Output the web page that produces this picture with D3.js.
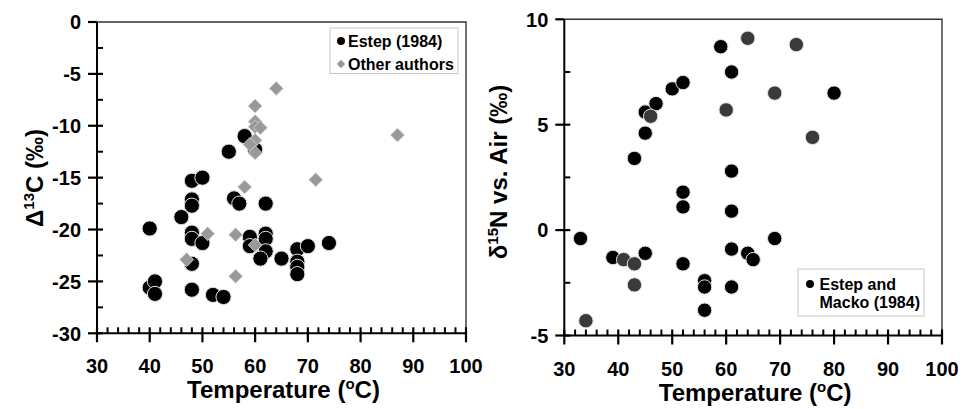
<!DOCTYPE html>
<html>
<head>
<meta charset="utf-8">
<script src="https://cdn.jsdelivr.net/npm/d3@7"></script>
<style>
  body { margin: 0; background: #fff; }
  svg { display: block; font-family: "Liberation Sans", Arial, sans-serif; font-weight: bold; }
</style>
</head>
<body>
<div id="app"></div>
<script>
// left panel: Delta 13C vs temperature
const estepC = [
  [40, -19.9], [40, -25.6], [41, -25.0], [41, -26.2], [46, -18.8], [48, -15.3],
  [50, -15.0], [48, -17.1], [48, -17.7], [48, -20.3], [48, -20.9], [50, -21.3],
  [48, -23.3], [48, -25.8], [52, -26.3], [54, -26.5], [55, -12.5], [58, -11.0],
  [60, -12.3], [56, -17.0], [57, -17.5], [62, -17.5], [59, -20.7], [59, -21.6],
  [62, -20.4], [62, -20.9], [62, -22.1], [61, -22.8], [65, -22.8], [68, -21.9],
  [68, -23.1], [68, -23.6], [68, -24.3], [70, -21.6], [74, -21.3]
];
const otherC = [
  [64, -6.4], [60, -8.1], [60, -9.6], [60, -10.1], [61, -10.2], [60, -11.4],
  [59, -11.8], [60, -12.6], [87, -10.9], [71.5, -15.2], [58, -15.9], [51, -20.4],
  [56.3, -20.5], [60, -21.5], [47, -22.9], [56.3, -24.5]
];

// right panel: delta 15N vs temperature
const estepN = [
  [33, -0.4], [39, -1.3], [45, -1.1], [43, 3.4], [45, 4.6], [45, 5.6], [47, 6.0],
  [50, 6.7], [52, 7.0], [52, 1.8], [52, 1.1], [52, -1.6], [56, -2.4], [56, -2.7],
  [56, -3.8], [59, 8.7], [61, 7.5], [61, 2.8], [61, 0.9], [61, -0.9], [61, -2.7],
  [64, -1.1], [65, -1.4], [69, -0.4], [80, 6.5]
];
const greyN = [
  [34, -4.3], [41, -1.4], [43, -1.6], [43, -2.6], [46, 5.4], [60, 5.7],
  [64, 9.1], [73, 8.8], [69, 6.5], [76, 4.4]
];

const xTicks = [30, 40, 50, 60, 70, 80, 90, 100];
const xMinor = [32, 34, 36, 38, 42, 44, 46, 48, 52, 54, 56, 58, 62, 64, 66, 68,
  72, 74, 76, 78, 82, 84, 86, 88, 92, 94, 96, 98];
const yTicksC = [0, -5, -10, -15, -20, -25, -30];
const yMinorC = [-2.5, -7.5, -12.5, -17.5, -22.5, -27.5];
const yTicksN = [10, 5, 0, -5];
const yMinorN = [7.5, 2.5, -2.5];

const svg = d3.select("#app").append("svg")
  .attr("width", 962).attr("height", 409);

function panel(cfg) {
  const x = d3.scaleLinear().domain([30, 100]).range(cfg.xr);
  const y = d3.scaleLinear().domain(cfg.yd).range(cfg.yr);
  const g = svg.append("g");
  const x0 = cfg.xr[0], x1 = cfg.xr[1];
  const y0 = cfg.yr[0], y1 = cfg.yr[1];

  // frame top/right
  g.append("path")
    .attr("d", `M${x0},${y1}H${x1}V${y0}`)
    .attr("fill", "none").attr("stroke", "#333").attr("stroke-width", 1.4);

  // minor ticks, inside
  g.append("g").selectAll("line").data(xMinor).join("line")
    .attr("x1", v => x(v)).attr("x2", v => x(v))
    .attr("y1", y0).attr("y2", y0 - 6)
    .style("stroke", "#000").style("stroke-width", "2px");
  g.append("g").selectAll("line").data(cfg.yMinor).join("line")
    .attr("y1", v => y(v)).attr("y2", v => y(v))
    .attr("x1", x0).attr("x2", x0 + 6)
    .style("stroke", "#000").style("stroke-width", "2px");
  // major ticks, crossing the axis
  g.append("g").selectAll("line").data(xTicks).join("line")
    .attr("x1", v => x(v)).attr("x2", v => x(v))
    .attr("y1", y0 - 6).attr("y2", y0 + 9)
    .style("stroke", "#000").style("stroke-width", "2.2px");
  g.append("g").selectAll("line").data(cfg.yTicks).join("line")
    .attr("y1", v => y(v)).attr("y2", v => y(v))
    .attr("x1", x0 - 9).attr("x2", v => v === cfg.yd[1] ? x0 : x0 + 6)
    .style("stroke", "#000").style("stroke-width", "2.2px");

  // axes lines
  g.append("path")
    .attr("d", `M${x0},${y1}V${y0}H${x1}`)
    .attr("fill", "none").attr("stroke", "#000").attr("stroke-width", 2);

  // tick labels
  g.append("g").selectAll("text").data(xTicks).join("text")
    .attr("x", v => x(v)).attr("y", y0 + cfg.xlabOff)
    .attr("text-anchor", "middle").attr("font-size", 20)
    .text(v => v);
  g.append("g").selectAll("text").data(cfg.yTicks).join("text")
    .attr("x", x0 - 16).attr("y", v => y(v)).attr("dy", "0.36em")
    .attr("text-anchor", "end").attr("font-size", 20)
    .text(v => v);

  // x title
  const xt = g.append("text")
    .attr("x", (x0 + x1) / 2 + 2).attr("y", cfg.xtitleY)
    .attr("text-anchor", "middle").attr("font-size", 24);
  xt.append("tspan").text("Temperature (");
  xt.append("tspan").attr("font-size", 15).attr("dy", -9).text("o");
  xt.append("tspan").attr("dy", 9).text("C)");

  // y title
  const yt = g.append("text")
    .attr("transform", `translate(${cfg.ytitleX},${cfg.ytitleY}) rotate(-90)`)
    .attr("text-anchor", "middle").attr("font-size", 24);
  yt.append("tspan").text(cfg.ytitle[0]);
  yt.append("tspan").attr("font-size", 15).attr("dy", -9).text(cfg.ytitle[1]);
  yt.append("tspan").attr("dy", 9).text(cfg.ytitle[2]);

  return { g, x, y };
}

// ---------- left ----------
const L = panel({
  xr: [97, 466], yr: [333.3, 22], yd: [-30, 0],
  yTicks: yTicksC, yMinor: yMinorC,
  xlabOff: 40, xtitleY: 398,
  ytitleX: 43, ytitleY: 178,
  ytitle: ["\u0394", "13", "C (\u2030)"]
});

L.g.append("g").selectAll("circle").data(estepC).join("circle")
  .attr("cx", d => L.x(d[0])).attr("cy", d => L.y(d[1])).attr("r", 7.6)
  .attr("fill", "#000").attr("stroke", "#e4e4e4").attr("stroke-width", 1);

const diamond = d3.symbol().type(d3.symbolDiamond2).size(125);
L.g.append("g").selectAll("path").data(otherC).join("path")
  .attr("d", diamond)
  .attr("transform", d => `translate(${L.x(d[0])},${L.y(d[1])})`)
  .attr("fill", "#999").attr("stroke", "#d8d8d8").attr("stroke-width", 0.8);

// left legend
const lgL = L.g.append("g");
lgL.append("rect").attr("x", 330).attr("y", 28).attr("width", 128).attr("height", 45.5)
  .attr("fill", "#fff").attr("stroke", "#c8c8c8").attr("stroke-width", 1);
lgL.append("circle").attr("cx", 341).attr("cy", 41).attr("r", 4).attr("fill", "#000");
lgL.append("path").attr("d", d3.symbol().type(d3.symbolDiamond2).size(45))
  .attr("transform", "translate(341,64)").attr("fill", "#999");
lgL.append("text").attr("x", 348).attr("y", 46.7).attr("font-size", 16).text("Estep (1984)");
lgL.append("text").attr("x", 348).attr("y", 69.5).attr("font-size", 16).text("Other authors");

// ---------- right ----------
const R = panel({
  xr: [564.3, 942], yr: [335.5, 19.3], yd: [-5, 10],
  yTicks: yTicksN, yMinor: yMinorN,
  xlabOff: 40.5, xtitleY: 401,
  ytitleX: 507, ytitleY: 172,
  ytitle: ["\u03b4", "15", "N vs. Air (\u2030)"]
});

R.g.append("g").selectAll("circle").data(estepN).join("circle")
  .attr("cx", d => R.x(d[0])).attr("cy", d => R.y(d[1])).attr("r", 7.2)
  .attr("fill", "#000").attr("stroke", "#e4e4e4").attr("stroke-width", 1);
R.g.append("g").selectAll("circle").data(greyN).join("circle")
  .attr("cx", d => R.x(d[0])).attr("cy", d => R.y(d[1])).attr("r", 7.2)
  .attr("fill", "#3a3a3a").attr("stroke", "#e4e4e4").attr("stroke-width", 1);

// right legend
const lgR = R.g.append("g");
lgR.append("rect").attr("x", 798).attr("y", 269).attr("width", 126).attr("height", 47)
  .attr("fill", "#fff").attr("stroke", "#c8c8c8").attr("stroke-width", 1);
lgR.append("circle").attr("cx", 810).attr("cy", 284).attr("r", 4).attr("fill", "#000");
lgR.append("text").attr("x", 819.5).attr("y", 289.5).attr("font-size", 16).text("Estep and");
lgR.append("text").attr("x", 819.5).attr("y", 308).attr("font-size", 16).text("Macko (1984)");
</script>
</body>
</html>
